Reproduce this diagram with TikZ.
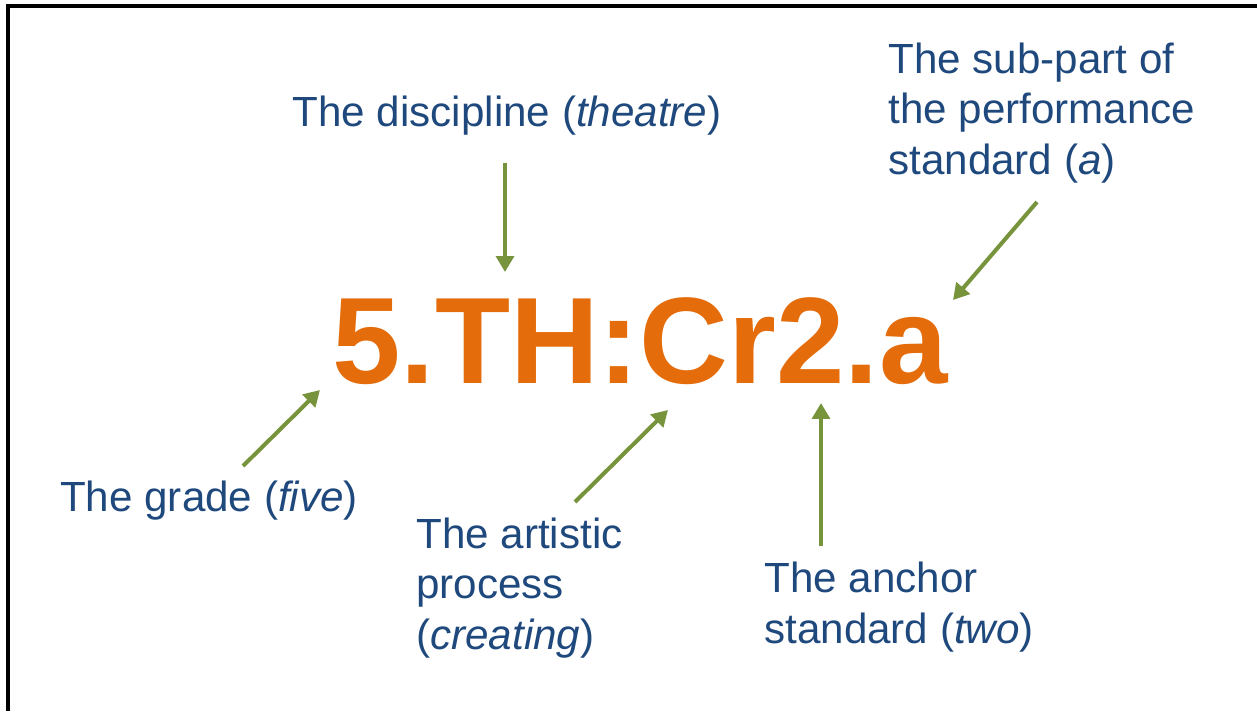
\documentclass[tikz,border=0pt]{standalone}
\usepackage{fontspec}
\setmainfont{Liberation Sans}
\usetikzlibrary{arrows.meta,positioning}
\definecolor{codeorange}{RGB}{228,108,10}
\definecolor{labelblue}{RGB}{31,73,125}
\definecolor{arrowgreen}{RGB}{119,147,60}

\begin{document}
\begin{tikzpicture}[
    x=0.02cm, y=0.02cm,
    label/.style={text=labelblue, font=\fontsize{24}{28.6}\selectfont, inner sep=0pt, align=left},
    pointer/.style={draw=arrowgreen, line width=2.3pt, -{Triangle[length=9pt, width=10pt]}}
  ]
    \useasboundingbox (0,0) rectangle (1257,711);
    \draw[line width=2pt] (8,0) -- (8,705) -- (1257,705);

    % the code itself
    \node[text=codeorange, font=\fontsize{70}{80}\selectfont\bfseries, inner sep=0pt, anchor=base] (code) at (640,328) {5.TH:Cr2.a};

    % the labels
    \node[label] (disc) at (507,595) {The discipline (\textit{theatre})};
    \node[label, anchor=west] (sub) at (888,598) {The sub-part of\\the performance\\standard (\textit{a})};
    \node[label] (grade) at (209,210) {The grade (\textit{five})};
    \node[label, anchor=west] (art) at (416,123) {The artistic\\process\\(\textit{creating})};
    \node[label, anchor=west] (anch) at (764,104) {The anchor\\standard (\textit{two})};

    % arrow ends
    \coordinate (disc-s) at (505,548);
    \coordinate (disc-e) at (505,439);
    \coordinate (sub-s) at (1037,509);
    \coordinate (sub-e) at (953,411);
    \coordinate (grade-s) at (243,245);
    \coordinate (grade-e) at (320,321);
    \coordinate (art-s) at (575,209);
    \coordinate (art-e) at (668,301);
    \coordinate (anch-s) at (821,165);
    \coordinate (anch-e) at (821,308);

    \draw[pointer] (disc-s) -- (disc-e);
    \draw[pointer] (sub-s) -- (sub-e);
    \draw[pointer] (grade-s) -- (grade-e);
    \draw[pointer] (art-s) -- (art-e);
    \draw[pointer] (anch-s) -- (anch-e);
  \end{tikzpicture}
\end{document}
